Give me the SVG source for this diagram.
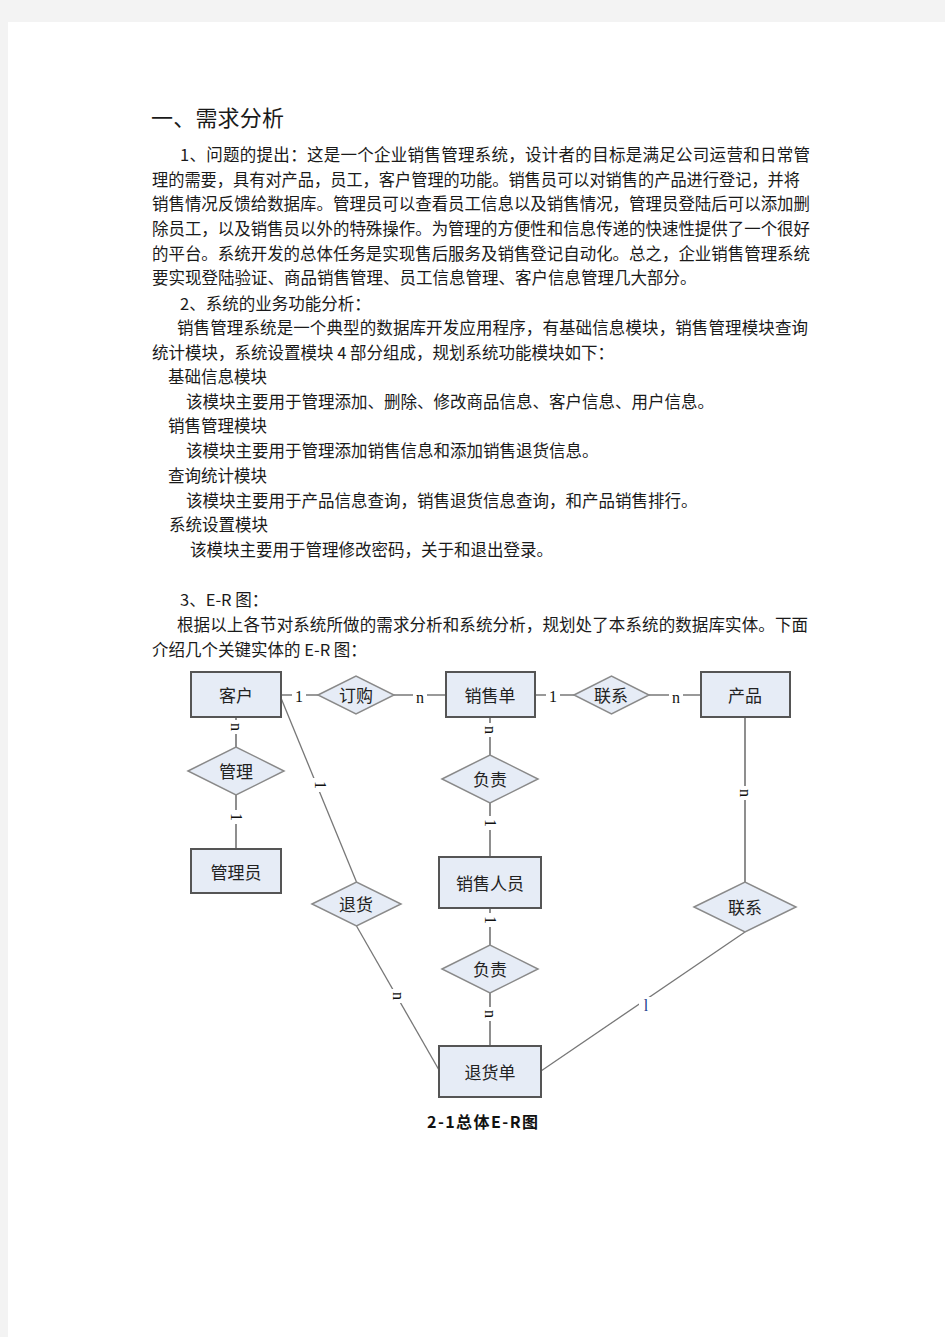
<svg xmlns="http://www.w3.org/2000/svg" width="945" height="1337" viewBox="0 0 945 1337">
<style>
.t{font-family:"Noto Sans CJK SC","Noto Sans",sans-serif;font-size:16.5px;fill:#1a1a1a}
.h{font-family:"Noto Sans CJK SC","Noto Sans",sans-serif;font-size:22px;fill:#1a1a1a}
.ent{fill:#e6ecf6;stroke:#555;stroke-width:2}
.rel{fill:#e6ecf6;stroke:#8a8a8a;stroke-width:1.5}
.nl{font-family:"Noto Sans CJK SC","Noto Sans",sans-serif;font-size:17px;fill:#222;text-anchor:middle;dominant-baseline:central}
.cl{stroke:#444;stroke-width:1.2;fill:none}
.cg{stroke:#777;stroke-width:1.3;fill:none}
.lb{font-family:"Liberation Serif",serif;font-size:16px;fill:#111;text-anchor:middle;dominant-baseline:central}
.bg{fill:#fff}
.cap{font-family:"Noto Sans CJK SC","Noto Sans",sans-serif;font-size:16px;font-weight:bold;fill:#111}
</style>
<rect x="0" y="0" width="945" height="1337" fill="#f3f3f3"/>
<rect x="8" y="22" width="937" height="1315" fill="#ffffff"/>

<g id="text">
<text class="h" x="151" y="126" textLength="133" lengthAdjust="spacing">一、需求分析</text>
<text class="t" x="180" y="161" textLength="630" lengthAdjust="spacing">1、问题的提出：这是一个企业销售管理系统，设计者的目标是满足公司运营和日常管</text>
<text class="t" x="152" y="186" textLength="648" lengthAdjust="spacingAndGlyphs">理的需要，具有对产品，员工，客户管理的功能。销售员可以对销售的产品进行登记，并将</text>
<text class="t" x="152" y="210" textLength="658" lengthAdjust="spacingAndGlyphs">销售情况反馈给数据库。管理员可以查看员工信息以及销售情况，管理员登陆后可以添加删</text>
<text class="t" x="152" y="235" textLength="658" lengthAdjust="spacingAndGlyphs">除员工，以及销售员以外的特殊操作。为管理的方便性和信息传递的快速性提供了一个很好</text>
<text class="t" x="152" y="260" textLength="658" lengthAdjust="spacingAndGlyphs">的平台。系统开发的总体任务是实现售后服务及销售登记自动化。总之，企业销售管理系统</text>
<text class="t" x="152" y="284">要实现登陆验证、商品销售管理、员工信息管理、客户信息管理几大部分。</text>
<text class="t" x="180" y="310">2、系统的业务功能分析：</text>
<text class="t" x="177" y="334" textLength="631" lengthAdjust="spacing">销售管理系统是一个典型的数据库开发应用程序，有基础信息模块，销售管理模块查询</text>
<text class="t" x="152" y="359">统计模块，系统设置模块 4 部分组成，规划系统功能模块如下：</text>
<text class="t" x="168" y="383">基础信息模块</text>
<text class="t" x="186" y="408">该模块主要用于管理添加、删除、修改商品信息、客户信息、用户信息。</text>
<text class="t" x="168" y="432">销售管理模块</text>
<text class="t" x="186" y="457">该模块主要用于管理添加销售信息和添加销售退货信息。</text>
<text class="t" x="168" y="482">查询统计模块</text>
<text class="t" x="186" y="507">该模块主要用于产品信息查询，销售退货信息查询，和产品销售排行。</text>
<text class="t" x="169" y="531">系统设置模块</text>
<text class="t" x="190" y="556">该模块主要用于管理修改密码，关于和退出登录。</text>
<text class="t" x="180" y="606">3、E-R 图：</text>
<text class="t" x="177" y="631" textLength="631" lengthAdjust="spacing">根据以上各节对系统所做的需求分析和系统分析，规划处了本系统的数据库实体。下面</text>
<text class="t" x="152" y="656">介绍几个关键实体的 E-R 图：</text>
</g>

<g id="connectors">
<line class="cg" x1="281" y1="695" x2="318" y2="695"/>
<line class="cg" x1="394" y1="695" x2="446" y2="695"/>
<line class="cg" x1="535" y1="695" x2="574" y2="695"/>
<line class="cg" x1="649" y1="695" x2="701" y2="695"/>
<line class="cl" x1="236" y1="717" x2="236" y2="747"/>
<line class="cl" x1="236" y1="795" x2="236" y2="849"/>
<line class="cl" x1="490" y1="717" x2="490" y2="755"/>
<line class="cl" x1="490" y1="803" x2="490" y2="857"/>
<line class="cl" x1="490" y1="908" x2="490" y2="945"/>
<line class="cl" x1="490" y1="993" x2="490" y2="1046"/>
<line class="cl" x1="745" y1="717" x2="745" y2="882"/>
<line class="cg" x1="281" y1="698" x2="356.5" y2="882"/>
<line class="cg" x1="356.5" y1="926" x2="439" y2="1070"/>
<line class="cg" x1="745" y1="932" x2="541" y2="1071"/>
<g id="labels">
<rect class="bg" x="292" y="688" width="14" height="16"/>
<text class="lb" x="299" y="696">1</text>
<rect class="bg" x="413" y="688" width="14" height="16"/>
<text class="lb" x="420" y="697">n</text>
<rect class="bg" x="546" y="688" width="14" height="16"/>
<text class="lb" x="553" y="696">1</text>
<rect class="bg" x="669" y="688" width="14" height="16"/>
<text class="lb" x="676" y="697">n</text>
<rect class="bg" x="228" y="720" width="16" height="14"/>
<text class="lb" x="236" y="727" transform="rotate(90 236 727)">n</text>
<rect class="bg" x="228" y="810" width="16" height="14"/>
<text class="lb" x="236" y="817" transform="rotate(90 236 817)">1</text>
<rect class="bg" x="482" y="723" width="16" height="14"/>
<text class="lb" x="490" y="730" transform="rotate(90 490 730)">n</text>
<rect class="bg" x="482" y="816" width="16" height="14"/>
<text class="lb" x="490" y="823" transform="rotate(90 490 823)">1</text>
<rect class="bg" x="482" y="913" width="16" height="14"/>
<text class="lb" x="490" y="920" transform="rotate(90 490 920)">1</text>
<rect class="bg" x="482" y="1007" width="16" height="14"/>
<text class="lb" x="490" y="1014" transform="rotate(90 490 1014)">n</text>
<rect class="bg" x="737" y="786" width="16" height="14"/>
<text class="lb" x="745" y="793" transform="rotate(90 745 793)">n</text>
<rect class="bg" x="312" y="778" width="16" height="14"/>
<text class="lb" x="320" y="785" transform="rotate(90 320 785)">1</text>
<rect class="bg" x="390" y="989" width="16" height="14"/>
<text class="lb" x="398" y="996" transform="rotate(90 398 996)">n</text>
<rect class="bg" x="639" y="997" width="14" height="16"/>
<text class="lb" x="646" y="1005" style="fill:#1a3a8a">l</text>
</g>
</g>

<g id="n-kehu"><rect class="ent" x="191" y="672" width="90" height="45"/><text class="nl" x="236" y="694">客户</text></g>
<g id="n-xiaoshoudan"><rect class="ent" x="446" y="672" width="89" height="45"/><text class="nl" x="490" y="694">销售单</text></g>
<g id="n-chanpin"><rect class="ent" x="701" y="672" width="89" height="45"/><text class="nl" x="745" y="694">产品</text></g>
<g id="n-guanliyuan"><rect class="ent" x="191" y="849" width="90" height="44"/><text class="nl" x="236" y="871">管理员</text></g>
<g id="n-xiaoshourenyuan"><rect class="ent" x="439" y="857" width="102" height="51"/><text class="nl" x="490" y="882">销售人员</text></g>
<g id="n-tuihuodan"><rect class="ent" x="439" y="1046" width="102" height="51"/><text class="nl" x="490" y="1071">退货单</text></g>

<g id="r-dinggou"><polygon class="rel" points="318,695 356,676 394,695 356,714"/><text class="nl" x="356" y="694">订购</text></g>
<g id="r-lianxi1"><polygon class="rel" points="574,695 611.5,676 649,695 611.5,714"/><text class="nl" x="611" y="694">联系</text></g>
<g id="r-guanli"><polygon class="rel" points="188,771 236,747 284,771 236,795"/><text class="nl" x="236" y="770">管理</text></g>
<g id="r-fuze1"><polygon class="rel" points="442,779 490,755 538,779 490,803"/><text class="nl" x="490" y="778">负责</text></g>
<g id="r-tuihuo"><polygon class="rel" points="312,904 356.5,882 401,904 356.5,926"/><text class="nl" x="356" y="903">退货</text></g>
<g id="r-fuze2"><polygon class="rel" points="442,969 490,945 538,969 490,993"/><text class="nl" x="490" y="968">负责</text></g>
<g id="r-lianxi2"><polygon class="rel" points="694,907 745,882 796,907 745,932"/><text class="nl" x="745" y="906">联系</text></g>

<text class="cap" x="427" y="1128" textLength="111" lengthAdjust="spacing">2-1总体E-R图</text>
</svg>
